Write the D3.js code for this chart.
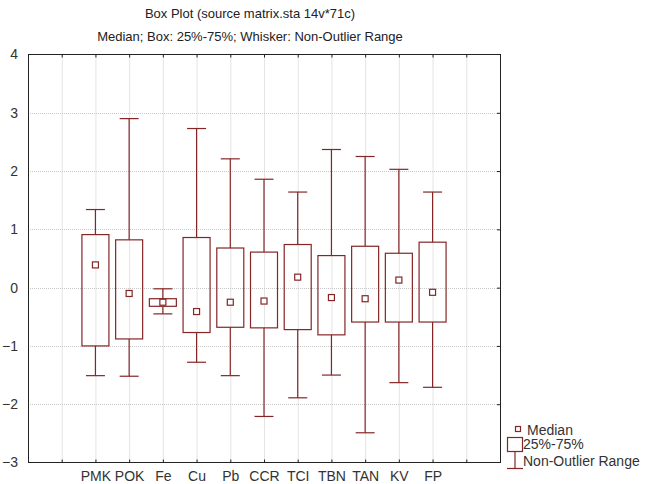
<!DOCTYPE html>
<html>
<head>
<meta charset="utf-8">
<script src="https://cdn.jsdelivr.net/npm/d3@7"></script>
<style>
  body { margin: 0; background: #fff; }
  svg { display: block; font-family: "Liberation Sans", Arial, sans-serif; }
  .grid line { stroke: #c8c8c8; stroke-dasharray: 1,1; }
  .axis path, .axis line { stroke: #222; }
  .axis text { fill: #333; font-size: 14px; }
</style>
</head>
<body>
<script>
// data
const categories = ["PMK", "POK", "Fe", "Cu", "Pb", "CCR", "TCI", "TBN", "TAN", "KV", "FP"];
const medians = [0.39, -0.10, -0.25, -0.41, -0.25, -0.23, 0.18, -0.17, -0.19, 0.13, -0.08];
const q1 = [-1.00, -0.88, -0.32, -0.77, -0.68, -0.69, -0.72, -0.81, -0.59, -0.59, -0.59];
const q3 = [0.91, 0.82, -0.19, 0.86, 0.68, 0.61, 0.74, 0.55, 0.71, 0.59, 0.78];
const whiskerLow = [-1.51, -1.52, -0.45, -1.28, -1.51, -2.21, -1.89, -1.50, -2.49, -1.63, -1.71];
const whiskerHigh = [1.34, 2.90, -0.02, 2.73, 2.21, 1.86, 1.64, 2.37, 2.25, 2.03, 1.64];
const yTicks = [-3, -2, -1, 0, 1, 2, 3, 4];

const w = 646, h = 484;
const plotL = 28, plotR = 500, plotT = 54.5, plotB = 462.5;
const boxColor = "#842626";

const svg = d3.select("body").append("svg")
  .attr("width", w)
  .attr("height", h);

// 14 slots across the frame, categories sit on slots 2..12
const slots = d3.range(1, 14);
const x = d3.scaleLinear().domain([0, 14]).range([plotL, plotR]);
const y = d3.scaleLinear().domain([-3, 4]).range([plotB, plotT]);
const slotOf = i => i + 2;

// grid
svg.append("g").attr("class", "grid")
  .selectAll("line").data(slots).enter().append("line")
  .attr("x1", d => x(d) + 0.5).attr("x2", d => x(d) + 0.5)
  .attr("y1", plotT).attr("y2", plotB);
svg.append("g").attr("class", "grid")
  .selectAll("line").data(yTicks.slice(1, -1)).enter().append("line")
  .attr("x1", plotL).attr("x2", plotR)
  .attr("y1", d => Math.round(y(d)) + 0.5).attr("y2", d => Math.round(y(d)) + 0.5);

// axes, ticks pointing inward
const labelOf = s => (s >= 2 && s <= 12) ? categories[s - 2] : "";

svg.append("g").attr("class", "axis")
  .attr("transform", `translate(0,${plotB})`)
  .call(d3.axisBottom(x).tickValues(slots).tickSize(-3).tickPadding(9).tickFormat(labelOf))
  .call(g => g.select(".domain").remove());

svg.append("g").attr("class", "axis")
  .attr("transform", `translate(0,${plotT})`)
  .call(d3.axisTop(x).tickValues(slots).tickSize(-3).tickFormat(""))
  .call(g => g.select(".domain").remove());

svg.append("g").attr("class", "axis")
  .attr("transform", `translate(${plotL},0)`)
  .call(d3.axisLeft(y).tickValues(yTicks).tickSize(0).tickPadding(10).tickFormat(d3.format("d")))
  .call(g => g.select(".domain").remove());

svg.append("g").attr("class", "axis")
  .attr("transform", `translate(${plotR},0)`)
  .call(d3.axisRight(y).tickValues(yTicks.slice(1, -1)).tickSize(-3).tickFormat(""))
  .call(g => g.select(".domain").remove());

svg.append("rect")
  .attr("x", plotL + 0.5).attr("y", plotT)
  .attr("width", plotR - plotL).attr("height", plotB - plotT)
  .attr("fill", "none").attr("stroke", "#222");

// boxes
const boxW = 27, capW = 19, medS = 6;
const boxes = svg.append("g")
  .selectAll("g")
  .data(categories)
  .enter()
  .append("g")
  .attr("stroke", boxColor)
  .attr("stroke-width", 1.2)
  .attr("fill", "none");

boxes.append("line")
  .attr("x1", (d, i) => x(slotOf(i))).attr("x2", (d, i) => x(slotOf(i)))
  .attr("y1", (d, i) => y(whiskerHigh[i])).attr("y2", (d, i) => y(q3[i]));
boxes.append("line")
  .attr("x1", (d, i) => x(slotOf(i))).attr("x2", (d, i) => x(slotOf(i)))
  .attr("y1", (d, i) => y(q1[i])).attr("y2", (d, i) => y(whiskerLow[i]));
boxes.append("line")
  .attr("x1", (d, i) => x(slotOf(i)) - capW / 2).attr("x2", (d, i) => x(slotOf(i)) + capW / 2)
  .attr("y1", (d, i) => y(whiskerHigh[i])).attr("y2", (d, i) => y(whiskerHigh[i]));
boxes.append("line")
  .attr("x1", (d, i) => x(slotOf(i)) - capW / 2).attr("x2", (d, i) => x(slotOf(i)) + capW / 2)
  .attr("y1", (d, i) => y(whiskerLow[i])).attr("y2", (d, i) => y(whiskerLow[i]));
boxes.append("rect")
  .attr("x", (d, i) => x(slotOf(i)) - boxW / 2)
  .attr("y", (d, i) => y(q3[i]))
  .attr("width", boxW)
  .attr("height", (d, i) => y(q1[i]) - y(q3[i]));
boxes.append("rect")
  .attr("x", (d, i) => x(slotOf(i)) - medS / 2)
  .attr("y", (d, i) => y(medians[i]) - medS / 2)
  .attr("width", medS).attr("height", medS)
  .attr("fill", "#fff");

// titles
const title = svg.append("g")
  .attr("font-size", 13).attr("fill", "#222").attr("text-anchor", "middle");
title.append("text").attr("x", 250).attr("y", 18).text("Box Plot (source matrix.sta 14v*71c)");
title.append("text").attr("x", 250).attr("y", 41).text("Median; Box: 25%-75%; Whisker: Non-Outlier Range");

// legend
const lg = svg.append("g").attr("font-size", 14).attr("fill", "#333");
lg.append("rect").attr("x", 515.5).attr("y", 426.5).attr("width", 5).attr("height", 5)
  .attr("fill", "none").attr("stroke", boxColor).attr("stroke-width", 1.2);
lg.append("text").attr("x", 527).attr("y", 434.5).text("Median");
lg.append("rect").attr("x", 507.5).attr("y", 437.5).attr("width", 15).attr("height", 14)
  .attr("fill", "none").attr("stroke", boxColor).attr("stroke-width", 1.2);
lg.append("text").attr("x", 523).attr("y", 449).text("25%-75%");
lg.append("line").attr("x1", 515).attr("x2", 515).attr("y1", 452).attr("y2", 468)
  .attr("stroke", boxColor).attr("stroke-width", 1.2);
lg.append("line").attr("x1", 507).attr("x2", 523).attr("y1", 468.5).attr("y2", 468.5)
  .attr("stroke", boxColor).attr("stroke-width", 1.2);
lg.append("text").attr("x", 523).attr("y", 465.5).text("Non-Outlier Range");
</script>
</body>
</html>
